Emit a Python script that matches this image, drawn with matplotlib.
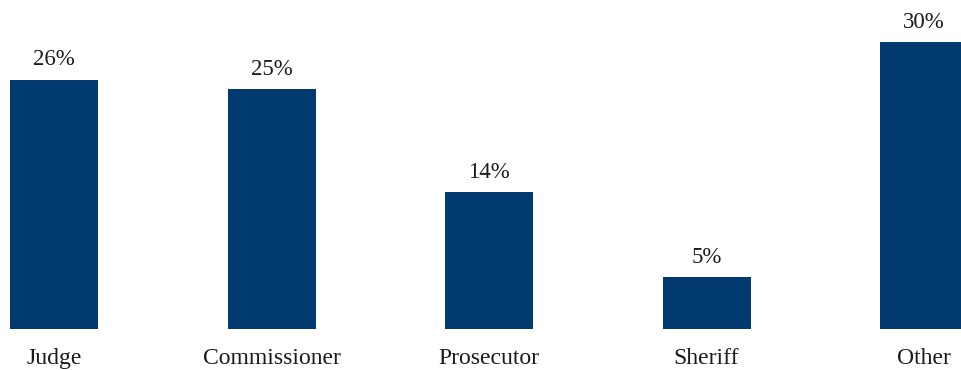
import matplotlib
matplotlib.use("Agg")
import matplotlib.pyplot as plt

categories = ["Judge", "Commissioner", "Prosecutor", "Sheriff", "Other"]
shares = [26.1, 25.1, 14.3, 5.4, 30.0]

bar_color = "#003A70"
plt.rcParams["font.family"] = ["Liberation Serif", "DejaVu Serif"]

fig = plt.figure(figsize=(9.61, 3.70), dpi=100)
ax = fig.add_axes([0, 41 / 370, 1, 329 / 370])

x = range(len(categories))
bars = ax.bar(x, shares, width=0.4046, color=bar_color)

for b, v in zip(bars, shares):
    ax.text(b.get_x() + b.get_width() / 2, v + 1.0, f"{v:.0f}%",
            ha="center", va="bottom", fontsize=16.5, color="#1a1a1a")

ax.set_xlim(-0.2483, 4.170)
ax.set_ylim(0, 34.45)
ax.set_xticks(list(x))
ax.set_xticklabels(categories, fontsize=17, color="#1a1a1a")
ax.tick_params(axis="x", length=0, pad=14)
ax.set_yticks([])
for s in ax.spines.values():
    s.set_visible(False)

fig.savefig("out.png", dpi=100)
